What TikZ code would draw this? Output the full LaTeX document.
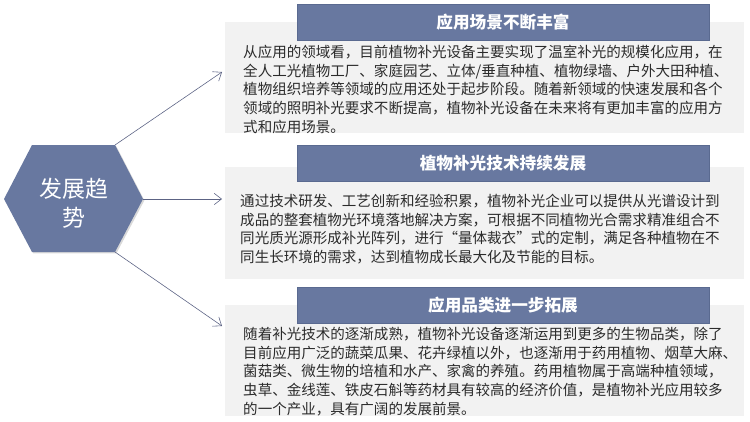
\documentclass[tikz,border=0pt]{standalone}
\usepackage{fontspec}
\setmainfont{Noto Sans CJK SC}
\usetikzlibrary{arrows.meta, shadows}
\definecolor{barblue}{HTML}{6878A0}
\definecolor{barline}{HTML}{5A6A90}
\definecolor{panelgrey}{HTML}{F2F2F2}
\definecolor{arrowgrey}{HTML}{5C6384}
\definecolor{textgrey}{HTML}{2B2B2B}

\begin{document}
\begin{tikzpicture}[x=0.03cm, y=-0.03cm,
  panelbox/.style={fill=panelgrey, draw=none},
  titlebar/.style={fill=barblue, draw=barline, line width=0.4pt, inner sep=0pt,
    minimum width=12.36cm, minimum height=1.09cm,
    drop shadow={shadow xshift=0.6pt, shadow yshift=-0.6pt, opacity=0.25},
    text=white, font=\fontsize{14.2pt}{16pt}\selectfont\bfseries},
  paneltext/.style={anchor=north west, inner sep=0pt, align=left, text=textgrey,
    font=\fontsize{12.4pt}{15.9pt}\selectfont},
  trendarrow/.style={draw=arrowgrey, line width=0.5pt,
    -{Straight Barb[length=2.2mm, width=3.4mm]}}]
\useasboundingbox (0,0) rectangle (750,422);

% grey panels
\path[panelbox] (225,22) rectangle (744,133);
\path[panelbox] (225,167) rectangle (744,279);
\path[panelbox] (225,305) rectangle (744,416);

% title bars
\node[titlebar] (bar1) at (503,22) {应用场景不断丰富};
\node[titlebar] (bar2) at (503,163.5) {植物补光技术持续发展};
\node[titlebar] (bar3) at (503,305) {应用品类进一步拓展};

% panel texts
\node[paneltext] (text1) at (243,45) {从应用的领域看，目前植物补光设备主要实现了温室补光的规模化应用，在\\
全人工光植物工厂、家庭园艺、立体/垂直种植、植物绿墙、户外大田种植、\\
植物组织培养等领域的应用还处于起步阶段。随着新领域的快速发展和各个\\
领域的照明补光要求不断提高，植物补光设备在未来将有更加丰富的应用方\\
式和应用场景。};
\node[paneltext] (text2) at (240,194) {通过技术研发、工艺创新和经验积累，植物补光企业可以提供从光谱设计到\\
成品的整套植物光环境落地解决方案，可根据不同植物光合需求精准组合不\\
同光质光源形成补光阵列，进行“量体裁衣”式的定制，满足各种植物在不\\
同生长环境的需求，达到植物成长最大化及节能的目标。};
\node[paneltext] (text3) at (243,327) {随着补光技术的逐渐成熟，植物补光设备逐渐运用到更多的生物品类，除了\\
目前应用广泛的蔬菜瓜果、花卉绿植以外，也逐渐用于药用植物、烟草大麻、\\
菌菇类、微生物的培植和水产、家禽的养殖。药用植物属于高端种植领域，\\
虫草、金线莲、铁皮石斛等药材具有较高的经济价值，是植物补光应用较多\\
的一个产业，具有广阔的发展前景。};

% hexagon
\coordinate (hextl) at (32,145);
\coordinate (hextr) at (115,145);
\coordinate (hexr) at (143,199);
\coordinate (hexbr) at (115,252);
\coordinate (hexbl) at (32,252);
\coordinate (hexl) at (4,199);
\fill[barblue, drop shadow={shadow xshift=1.2pt, shadow yshift=-1.2pt, opacity=0.3}]
  (hextl) -- (hextr) -- (hexr) -- (hexbr) -- (hexbl) -- (hexl) -- cycle;
\node[text=white, align=center, font=\fontsize{19.6pt}{24.7pt}\selectfont]
  (trend) at (74,203) {发展趋\\势};

% arrows
\coordinate (end1) at (222,72);
\coordinate (end2) at (222,199);
\coordinate (end3) at (222,326);
\draw[trendarrow] (hextr) -- (end1);
\draw[trendarrow] (hexr) -- (end2);
\draw[trendarrow] (hexbr) -- (end3);
\end{tikzpicture}
\end{document}
